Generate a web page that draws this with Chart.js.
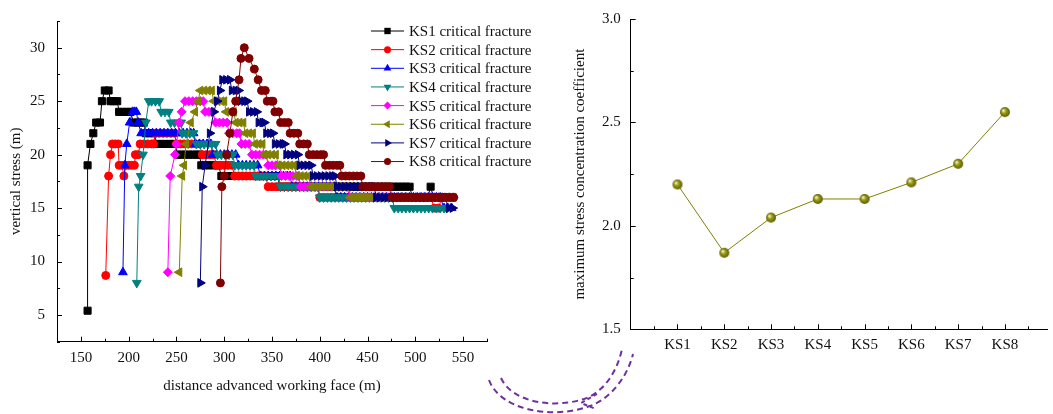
<!DOCTYPE html>
<html lang="en">
<head>
  <meta charset="UTF-8">
  <title>Critical fracture vertical stress</title>
  <style>
    body { margin: 0; background: #fff; }
    #wrap { position: relative; width: 1053px; height: 414px; }
    #leftChart { position: absolute; left: 0; top: 0; }
    #rightChart { position: absolute; left: 560px; top: 0; }
  </style>
  <script src="https://cdn.jsdelivr.net/npm/chart.js"></script>
</head>
<body>
<div id="wrap">
  <canvas id="leftChart" width="640" height="414"></canvas>
  <canvas id="rightChart" width="493" height="414"></canvas>
</div>
<script>
  // ---- left chart: vertical stress vs distance, one series per critical fracture ----
  const seriesNames = ['KS1 critical fracture', 'KS2 critical fracture', 'KS3 critical fracture', 'KS4 critical fracture',
                       'KS5 critical fracture', 'KS6 critical fracture', 'KS7 critical fracture', 'KS8 critical fracture'];
  const leftXTicks = [150, 200, 250, 300, 350, 400, 450, 500, 550];
  const leftYTicks = [5, 10, 15, 20, 25, 30];

  const ks1 = [[157,5.4],[157,19],[160,21],[163,22],[166,23],[170,23],[172,25],[175,26],[179,26],[181,25],[184,25],[188,25],
    [190,24],[194,24],[198,24],[202,24],[205,23],[209,23],[213,23],[216,23],[218,22],[222,22],[226,22],
    [230,21],[234,21],[238,21],[242,21],[246,21],[249,21],[251,20],[255,20],[259,20],[263,20],[267,20],[271,20],[274,20],
    [276,19],[280,19],[284,19],[288,19],[292,19],[294,19],[297,18],[301,18],[305,18],[309,18],[313,18],[317,18],
    [321,18],[325,18],[329,18],[333,18],[337,18],[341,18],[345,18],[349,18],[353,18],[356,18],
    [358,17],[362,17],[366,17],[370,17],[374,17],[378,17],[382,17],[386,17],[390,17],[394,17],[398,17],[402,17],
    [406,17],[410,17],[414,17],[418,17],[422,17],[426,17],[430,17],[434,17],[438,17],[442,17],[446,17],[450,17],
    [454,17],[458,17],[462,17],[466,17],[470,17],[474,17],[478,17],[482,17],[486,17],[490,17],[494,17],
    [497,16],[501,16],[505,16],[509,16],[513,16],[516,17],[519,16],[523,16],[527,16],[531,16],[535,16],[538,16]];

  const ks2 = [[176,8.7],[179,18],[181,20],[183,21],[186,21],[189,21],[190,19],[193,19],[195,18],[197,19],[200,19],[203,19],
    [206,19],[207,20],[210,20],[212,21],[216,21],[220,21],[224,21],[226,21],
    [228,22],[232,22],[236,22],[240,22],[244,22],[248,22],[250,21],[254,21],[258,21],[262,21],[266,21],[270,21],[274,21],
    [277,20],[281,20],[285,20],[289,20],[292,19],[296,19],[300,19],[304,19],[308,19],
    [311,18],[315,18],[319,18],[323,18],[327,18],[331,18],[335,18],[339,18],[343,18],
    [346,17],[350,17],[354,17],[358,17],[362,17],[366,17],[370,17],[374,17],[378,17],[382,17],[386,17],[390,17],[394,17],[398,17],
    [400,16],[404,16],[408,16],[412,16],[416,16],[420,16],[424,16],[428,16],[432,16],[436,16],[440,16],[444,16],
    [448,16],[452,16],[456,16],[460,16],[464,16],[468,16],[472,16],[476,16],[480,16],[484,16],[488,16],[492,16],
    [496,16],[500,16],[504,16],[508,16],[512,16],[516,16],[520,15],[524,15],[528,16],[532,16],[536,16],[540,16]];

  const ks3 = [[194,9],[196,19],[198,21],[201,23],[204,24],[206,24],[208,24],[210,23],
    [213,22],[217,22],[221,22],[225,22],[229,22],[233,22],[237,22],[241,22],[245,22],[249,22],[253,22],[257,22],
    [261,22],[265,22],[268,22],[270,21],[274,21],[278,21],[282,21],[286,21],
    [288,20],[292,20],[296,20],[300,20],[304,20],[308,20],[312,20],[315,19],[319,19],[323,19],[327,19],[331,19],[335,19],
    [338,18],[342,18],[346,18],[350,18],[354,18],[358,18],[362,18],[366,18],[369,18],
    [371,17],[375,17],[379,17],[383,17],[387,17],[391,17],[395,17],[399,17],[403,17],[407,17],[411,17],[415,17],
    [418,16],[422,16],[426,16],[430,16],[434,16],[438,16],[442,16],[446,16],[450,16],[454,16],[458,16],[462,16],
    [466,16],[470,16],[474,16],[478,16],[482,16],[486,16],[490,16],[494,16],[498,16],[502,16],[506,16],[510,16],
    [514,16],[518,16],[522,16],[526,16],[530,15],[534,15],[538,15]];

  const ks4 = [[208.5,8],[210.5,17],[212.5,18],[215,20],[218,23],[221,25],[224,25],[228,25],[232,25],
    [234,24],[238,24],[242,24],[244,23],[248,23],[252,23],[255,23],[256,22],[260,22],[264,22],[268,22],
    [271,21],[275,21],[279,21],[283,21],[287,21],[291,21],[293,20],[297,20],[301,20],[305,20],[309,20],
    [311,19],[315,19],[319,19],[323,19],[327,19],[331,19],[333,18],[337,18],[341,18],[345,18],[349,18],[353,18],[357,18],
    [359,17],[363,17],[367,17],[371,17],[375,17],[379,17],[383,17],[387,17],[391,17],[395,17],[398,17],
    [400,16],[404,16],[408,16],[412,16],[416,16],[420,16],[424,16],[428,16],[432,16],[436,16],[440,16],[444,16],
    [448,16],[452,16],[456,16],[460,16],[464,16],[468,16],[472,16],[476,16],
    [478,15],[482,15],[486,15],[490,15],[494,15],[498,15],[502,15],[506,15],[510,15],[514,15],[518,15],[522,15],
    [526,15],[530,15],[533,15]];

  const ks5 = [[241,9],[243.5,18],[248.5,20],[250,21],[253,23],[255.5,24],[259,25],[263,25],[267,25],[271,25],[275,25],[278,25],
    [280,24],[284,24],[288,24],[291,23],[295,23],[299,23],[303,23],[305,22],[309,22],[313,22],[316,22],
    [318,21],[322,21],[326,21],[329,20],[333,20],[337,20],[341,20],[344,20],[346,19],[350,19],[354,19],[358,19],
    [360,18],[364,18],[368,18],[372,18],[376,18],[378,18],
    [380,17],[384,17],[388,17],[392,17],[396,17],[400,17],[404,17],[408,17],[412,17],[416,17],[420,17],[424,17],[428,17],
    [432,16],[436,16],[440,16],[444,16],[448,16],[452,16],[456,16],[460,16],[464,16],[468,16],[472,16],[476,16],
    [480,16],[484,16],[488,16],[492,16],[496,16],[500,16],[504,16],[508,16],[512,16],[516,16],[520,16],[524,16],
    [528,16],[532,16],[536,16],[540,16]];

  const ks6 = [[253,9],[256,18],[258,19],[260,21],[265,23],[269.5,24],[272.5,25],[275,26],[279,26],[283,26],[287,26],
    [289,25],[293,25],[297,25],[300,25],[302,24],[306,24],[310,24],[312,23],[316,23],[320,23],
    [322,22],[326,22],[330,22],[332,21],[336,21],[340,21],[342,20],[346,20],[350,20],[354,20],
    [357,19],[361,19],[365,19],[369,19],[373,19],[376,18],[380,18],[384,18],[388,18],
    [391,17],[395,17],[399,17],[403,17],[407,17],[411,17],[415,17],[419,17],[423,17],[427,17],[430,17],
    [432,16],[436,16],[440,16],[444,16],[448,16],[452,16],[456,16],[460,16],[464,16],[468,16],[472,16],[476,16],
    [480,16],[484,16],[488,16],[492,16],[496,16],[500,16],[504,16],[508,16],[512,16],[516,16],[520,16],[524,16],
    [528,16],[532,16],[536,16],[540,16]];

  const ks7 = [[275,8],[277,17],[280,19],[285,22],[289,24],[292.5,25],[295.5,26],[298,27],[302,27],[306,27],
    [308,26],[312,26],[315,26],[317,25],[321,25],[324,25],[326,24],[330,24],[334,24],[336,23],[340,23],[342,23],
    [344,22],[348,22],[351,22],[353,21],[357,21],[361,21],[363,21],[365,20],[369,20],[373,20],[377,20],
    [379,19],[383,19],[387,19],[391,19],[393,18],[397,18],[401,18],[405,18],[409,18],[413,18],[416,18],
    [418,17],[422,17],[426,17],[430,17],[434,17],[438,17],[442,17],[446,17],[450,17],[454,17],[457,17],
    [459,16],[463,16],[467,16],[471,16],[475,16],[479,16],[483,16],[487,16],[491,16],[495,16],[499,16],[503,16],
    [507,16],[511,16],[515,16],[519,16],[523,16],[527,16],[531,16],[535,15],[539,15]];

  const ks8 = [[296,8],[297.5,17],[300,18],[302.5,20],[306,22],[309,24],[312,25],[315.5,27],[317.5,29],[321,30],
    [326,29],[331.5,28],[335.5,27],[339,26],[343,26],[345,25],[349,25],[351,25],[353,24],[357,24],
    [359,23],[363,23],[367,23],[369,22],[373,22],[377,22],[379,21],[383,21],[387,21],
    [389,20],[393,20],[397,20],[401,20],[404,20],[406,19],[410,19],[414,19],[418,19],[421,19],
    [423,18],[427,18],[431,18],[435,18],[439,18],[443,18],[445,17],[449,17],[453,17],[457,17],[461,17],[465,17],[469,17],[473,17],
    [476,16],[480,16],[484,16],[488,16],[492,16],[496,16],[500,16],[504,16],[508,16],[512,16],[516,16],[520,16],
    [524,16],[528,16],[532,16],[536,16],[540,16]];

  // ---- right chart: maximum stress concentration coefficient per fracture ----
  const categories = ['KS1', 'KS2', 'KS3', 'KS4', 'KS5', 'KS6', 'KS7', 'KS8'];
  const maxCoeff = [2.20, 1.87, 2.04, 2.13, 2.13, 2.21, 2.30, 2.55];
  const rightYTicks = [1.5, 2.0, 2.5, 3.0];

  const allSeries = [ks1, ks2, ks3, ks4, ks5, ks6, ks7, ks8];
  const colors = ['#000000', '#ff0000', '#0000ff', '#008080', '#ff00ff', '#808000', '#000080', '#800000'];
  const pointStyles = ['rect', 'circle', 'triangle', 'triangle', 'rectRot', 'triangle', 'triangle', 'circle'];
  const rotations = [0, 0, 0, 180, 0, 270, 90, 0];
  const radii = [5, 4, 5, 5, 4.5, 5, 5, 4];

  const serif = '"Liberation Serif", "Times New Roman", serif';
  Chart.defaults.font.family = serif;
  Chart.defaults.font.size = 15;
  Chart.defaults.color = '#111';

  // tick marks pointing into the plot, major at each label, minor half way between
  const innerTicks = {
    id: 'innerTicks',
    afterDraw(chart) {
      const ctx = chart.ctx;
      const area = chart.chartArea;
      ctx.save();
      ctx.strokeStyle = '#000';
      ctx.lineWidth = 1;
      ['x', 'y'].forEach(id => {
        const scale = chart.scales[id];
        const majors = scale.ticks.map(t => t.value);
        const step = majors[1] - majors[0];
        const marks = majors.map(v => [v, 5]);
        for (let v = majors[0] - step / 2; v >= scale.min - 1e-9; v -= step) marks.push([v, 3]);
        majors.forEach(m => { if (m + step / 2 <= scale.max + 1e-9) marks.push([m + step / 2, 3]); });
        marks.forEach(([v, len]) => {
          const p = Math.round(scale.getPixelForValue(v)) + 0.5;
          ctx.beginPath();
          if (id === 'x') { ctx.moveTo(p, area.bottom); ctx.lineTo(p, area.bottom - len); }
          else { ctx.moveTo(area.left, p); ctx.lineTo(area.left + len, p); }
          ctx.stroke();
        });
      });
      ctx.restore();
    }
  };

  // legend with a short line through the marker, like the original plot
  const lineLegend = {
    id: 'lineLegend',
    afterDraw(chart) {
      const ctx = chart.ctx;
      ctx.save();
      ctx.font = '15px ' + serif;
      ctx.textBaseline = 'middle';
      chart.data.datasets.forEach((ds, i) => {
        const y = 31 + i * 18.65;
        ctx.strokeStyle = ds.borderColor;
        ctx.lineWidth = 1;
        ctx.beginPath(); ctx.moveTo(371, y); ctx.lineTo(404, y); ctx.stroke();
        ctx.fillStyle = ds.backgroundColor;
        if (Chart.helpers && Chart.helpers.drawPoint) {
          Chart.helpers.drawPoint(ctx, { pointStyle: ds.pointStyle, rotation: ds.pointRotation, radius: ds.pointRadius - 0.5, borderWidth: 0 }, 387.5, y);
        } else {
          ctx.beginPath(); ctx.arc(387.5, y, 3.5, 0, Math.PI * 2); ctx.fill();
        }
        ctx.fillStyle = '#111';
        ctx.fillText(ds.label, 409, y + 1);
      });
      ctx.restore();
    }
  };

  // dashed purple curved arrow between the two plots
  const curvedArrow = {
    id: 'curvedArrow',
    afterDraw(chart) {
      const ctx = chart.ctx;
      ctx.save();
      ctx.strokeStyle = '#7030a0';
      ctx.lineWidth = 2;
      ctx.setLineDash([6, 4]);
      ctx.beginPath();
      ctx.moveTo(489, 380);
      ctx.bezierCurveTo(500, 410, 552, 420, 590, 406);
      ctx.bezierCurveTo(612, 398, 628, 375, 633, 354);
      ctx.stroke();
      ctx.beginPath();
      ctx.moveTo(501, 378);
      ctx.bezierCurveTo(512, 402, 552, 409, 584, 399);
      ctx.bezierCurveTo(604, 392, 617, 372, 622, 349);
      ctx.stroke();
      ctx.setLineDash([4, 3]);
      ctx.beginPath();
      ctx.moveTo(597, 394); ctx.lineTo(581, 403); ctx.lineTo(596, 409);
      ctx.stroke();
      ctx.restore();
    }
  };

  const axisBorder = { display: true, color: '#000', width: 1 };
  const noGrid = { display: false, drawTicks: false, tickLength: 0 };

  new Chart(document.getElementById('leftChart'), {
    type: 'line',
    data: {
      datasets: allSeries.map((s, i) => ({
        label: seriesNames[i],
        data: s,
        borderColor: colors[i],
        backgroundColor: colors[i],
        borderWidth: 1,
        pointStyle: pointStyles[i],
        pointRotation: rotations[i],
        pointRadius: radii[i],
        pointBorderWidth: 1,
        tension: 0,
        order: allSeries.length - i   // later fractures drawn on top
      }))
    },
    options: {
      responsive: false,
      animation: false,
      events: [],
      layout: { padding: { top: 20, right: 153, left: 0, bottom: 0 } },
      plugins: { legend: { display: false }, tooltip: { enabled: false } },
      scales: {
        x: {
          type: 'linear', min: 125, max: 575,
          afterBuildTicks: s => { s.ticks = leftXTicks.map(v => ({ value: v })); },
          afterFit: s => { s.height = 72.3; },
          ticks: { padding: 7, maxRotation: 0, autoSkip: false },
          grid: noGrid, border: axisBorder,
          title: { display: true, text: 'distance advanced working face (m)', padding: { top: 0, bottom: 19 } }
        },
        y: {
          type: 'linear', min: 2.5, max: 32.5,
          afterBuildTicks: s => { s.ticks = leftYTicks.map(v => ({ value: v })); },
          afterFit: s => { s.width = 57; },
          ticks: { padding: 12 },
          grid: noGrid, border: axisBorder,
          title: { display: true, text: 'vertical stress (m)', padding: { top: 7, bottom: 0 } }
        }
      }
    },
    plugins: [innerTicks, lineLegend, curvedArrow]
  });

  // shaded ball marker used by the right plot
  function makeBall(r) {
    const c = document.createElement('canvas');
    c.width = c.height = 2 * r + 2;
    const g = c.getContext('2d');
    const cx = r + 1;
    const grad = g.createRadialGradient(cx - r * 0.35, cx - r * 0.35, r * 0.1, cx, cx, r);
    grad.addColorStop(0, '#f2f2c0');
    grad.addColorStop(0.4, '#9a9a18');
    grad.addColorStop(1, '#5c5c00');
    g.fillStyle = grad;
    g.beginPath(); g.arc(cx, cx, r, 0, Math.PI * 2); g.fill();
    return c;
  }
  const ball = makeBall(5);

  new Chart(document.getElementById('rightChart'), {
    type: 'line',
    data: {
      datasets: [{
        data: categories.map((c, i) => ({ x: i + 1, y: maxCoeff[i] })),
        borderColor: '#808000',
        borderWidth: 1,
        pointStyle: ball,
        pointRadius: 5,
        tension: 0
      }]
    },
    options: {
      responsive: false,
      animation: false,
      events: [],
      layout: { padding: { top: 14, right: 3, left: 0, bottom: 0 } },
      plugins: { legend: { display: false }, tooltip: { enabled: false } },
      scales: {
        x: {
          type: 'linear', min: 0, max: 8.9,
          afterBuildTicks: s => { s.ticks = categories.map((c, i) => ({ value: i + 1 })); },
          afterFit: s => { s.height = 84.7; },
          ticks: { padding: 7, maxRotation: 0, autoSkip: false, callback: v => categories[v - 1] },
          grid: noGrid, border: axisBorder
        },
        y: {
          type: 'linear', min: 1.5, max: 3.0,
          afterBuildTicks: s => { s.ticks = rightYTicks.map(v => ({ value: v })); },
          afterFit: s => { s.width = 70.7; },
          ticks: { padding: 10, callback: v => v.toFixed(1) },
          grid: noGrid, border: axisBorder,
          title: { display: true, text: 'maximum stress concentration coefficient', padding: { top: 11, bottom: 0 } }
        }
      }
    },
    plugins: [innerTicks]
  });
</script>
</body>
</html>
